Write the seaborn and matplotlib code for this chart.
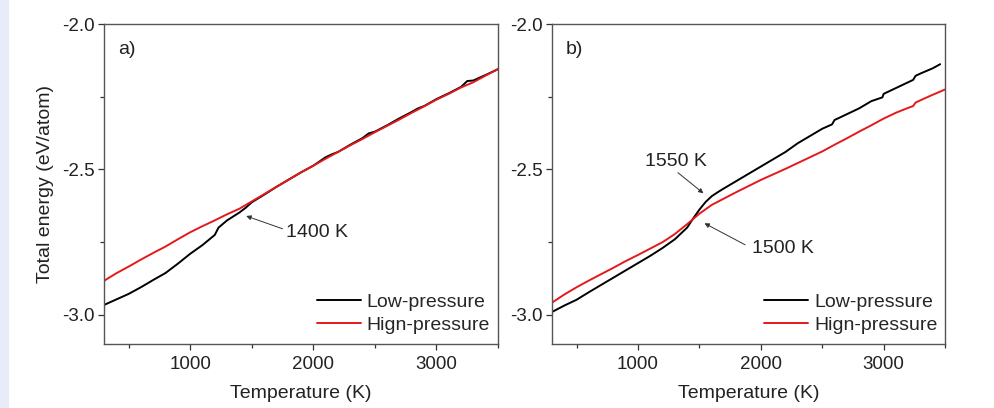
import pandas as pd
import seaborn as sns
import matplotlib.pyplot as plt
from matplotlib.ticker import MultipleLocator, FormatStrFormatter
from matplotlib.patches import Rectangle

# panel a) values
temp_a_low = [300, 400, 500, 600, 700, 800, 900, 1000, 1100, 1200, 1230, 1300, 1400, 1450,
              1500, 1600, 1700, 1800, 1900, 2000, 2100, 2150, 2200, 2300, 2400, 2450, 2500,
              2600, 2700, 2800, 2850, 2900, 3000, 3100, 3200, 3250, 3300, 3400, 3500]
energy_a_low = [-2.966, -2.947, -2.928, -2.905, -2.880, -2.856, -2.824, -2.790, -2.760, -2.725,
                -2.700, -2.675, -2.648, -2.632, -2.613, -2.587, -2.560, -2.535, -2.510, -2.487,
                -2.458, -2.448, -2.440, -2.415, -2.392, -2.376, -2.370, -2.348, -2.324, -2.302,
                -2.290, -2.282, -2.258, -2.238, -2.216, -2.196, -2.194, -2.175, -2.155]
temp_a_high = [300, 400, 500, 600, 700, 800, 900, 1000, 1100, 1200, 1300, 1400, 1500, 1600,
               1700, 1800, 1900, 2000, 2100, 2200, 2300, 2400, 2500, 2600, 2700, 2800, 2900,
               3000, 3100, 3200, 3300, 3400, 3500]
energy_a_high = [-2.883, -2.857, -2.834, -2.810, -2.787, -2.765, -2.740, -2.716, -2.695, -2.675,
                 -2.654, -2.635, -2.610, -2.585, -2.560, -2.535, -2.510, -2.487, -2.463, -2.440,
                 -2.417, -2.395, -2.372, -2.350, -2.328, -2.305, -2.283, -2.260, -2.240, -2.218,
                 -2.200, -2.177, -2.155]

# panel b)
temp_b_low = [300, 400, 500, 600, 700, 800, 900, 1000, 1100, 1200, 1300, 1350, 1400, 1450,
              1500, 1550, 1600, 1650, 1700, 1800, 1900, 2000, 2100, 2200, 2300, 2400, 2500,
              2580, 2600, 2700, 2800, 2900, 2990, 3000, 3100, 3200, 3240, 3260, 3300, 3400, 3460]
energy_b_low = [-2.990, -2.968, -2.948, -2.922, -2.897, -2.872, -2.847, -2.822, -2.797, -2.770,
                -2.740, -2.720, -2.700, -2.668, -2.638, -2.612, -2.592, -2.578, -2.565, -2.540,
                -2.515, -2.490, -2.465, -2.440, -2.410, -2.385, -2.360, -2.345, -2.330, -2.310,
                -2.290, -2.265, -2.252, -2.240, -2.220, -2.200, -2.192, -2.178, -2.170, -2.152,
                -2.138]
temp_b_high = [300, 400, 500, 600, 700, 800, 900, 1000, 1100, 1200, 1300, 1400, 1500, 1600,
               1700, 1800, 1900, 2000, 2100, 2200, 2300, 2400, 2500, 2600, 2700, 2800, 2900,
               3000, 3100, 3200, 3240, 3260, 3300, 3400, 3500]
energy_b_high = [-2.958, -2.930, -2.905, -2.882, -2.860, -2.838, -2.815, -2.794, -2.772, -2.750,
                 -2.722, -2.688, -2.652, -2.622, -2.600, -2.578, -2.557, -2.536, -2.517, -2.498,
                 -2.478, -2.458, -2.438, -2.415, -2.393, -2.370, -2.348, -2.325, -2.305, -2.288,
                 -2.282, -2.270, -2.262, -2.243, -2.225]

labels = ["Low-pressure", "Hign-pressure"]
colors = ["black", "#e3191c"]

sns.set_style("ticks")
plt.rcParams['font.family'] = ['Liberation Sans', 'DejaVu Sans']
plt.rcParams['axes.unicode_minus'] = False

fig = plt.figure(figsize=(9.95, 4.08), dpi=100)
fig.patches.append(Rectangle((0, 0), 8 / 995, 1, transform=fig.transFigure,
                             color="#e8ecf8", zorder=0))
ax1 = fig.add_axes([0.1045, 0.157, 0.396, 0.784])
ax2 = fig.add_axes([0.5548, 0.157, 0.395, 0.784])

panels = [
    (ax1, temp_a_low, energy_a_low, temp_a_high, energy_a_high, "a)"),
    (ax2, temp_b_low, energy_b_low, temp_b_high, energy_b_high, "b)"),
]

for ax, tl, el, th, eh, tag in panels:
    df = pd.concat([
        pd.DataFrame({"T": tl, "E": el, "phase": labels[0]}),
        pd.DataFrame({"T": th, "E": eh, "phase": labels[1]}),
    ])
    sns.lineplot(data=df, x="T", y="E", hue="phase", palette=colors,
                 estimator=None, sort=False, linewidth=1.4, ax=ax)
    ax.set_xlim(300, 3500)
    ax.set_ylim(-3.1, -2.0)
    ax.xaxis.set_major_locator(MultipleLocator(1000))
    ax.xaxis.set_minor_locator(MultipleLocator(500))
    ax.yaxis.set_major_locator(MultipleLocator(0.5))
    ax.yaxis.set_minor_locator(MultipleLocator(0.25))
    ax.yaxis.set_major_formatter(FormatStrFormatter('%.1f'))
    ax.tick_params(which='major', direction='out', length=4, width=0.9,
                   labelsize=13.5, colors='#333333', labelcolor='#222222')
    ax.tick_params(axis='x', which='major', pad=5)
    ax.tick_params(axis='y', which='major', pad=2.5)
    ax.tick_params(which='minor', direction='out', length=3, width=0.9, colors='#333333')
    for s in ax.spines.values():
        s.set_visible(True)
        s.set_color('#555555')
        s.set_linewidth(1.0)
    ax.set_xlabel("Temperature (K)", fontsize=14, color='#222222', labelpad=8)
    ax.set_ylabel("")
    ax.text(0.036, 0.905, tag, transform=ax.transAxes, fontsize=14, color='#222222')
    ax.legend(frameon=False, loc='lower right', bbox_to_anchor=(1.0, 0.006),
              fontsize=14, handlelength=2.27, handletextpad=0.3, labelspacing=0.3,
              borderpad=0.1, borderaxespad=0.3)

ax1.set_ylabel("Total energy (eV/atom)", fontsize=14, color='#222222', labelpad=6)

arrow = dict(arrowstyle="-|>", color="#333333", lw=0.7, mutation_scale=7, shrinkA=0, shrinkB=0)
ax1.annotate("", xy=(1455, -2.66), xytext=(1750, -2.704), arrowprops=arrow)
ax1.text(1775, -2.718, "1400 K", fontsize=14, va='center', color='#222222')

ax2.annotate("", xy=(1533, -2.582), xytext=(1325, -2.511), arrowprops=arrow)
ax2.text(1311, -2.472, "1550 K", fontsize=14, ha='center', va='center', color='#222222')
ax2.annotate("", xy=(1541, -2.685), xytext=(1872, -2.759), arrowprops=arrow)
ax2.text(1925, -2.772, "1500 K", fontsize=14, va='center', color='#222222')

fig.savefig("out.png", dpi=100)
